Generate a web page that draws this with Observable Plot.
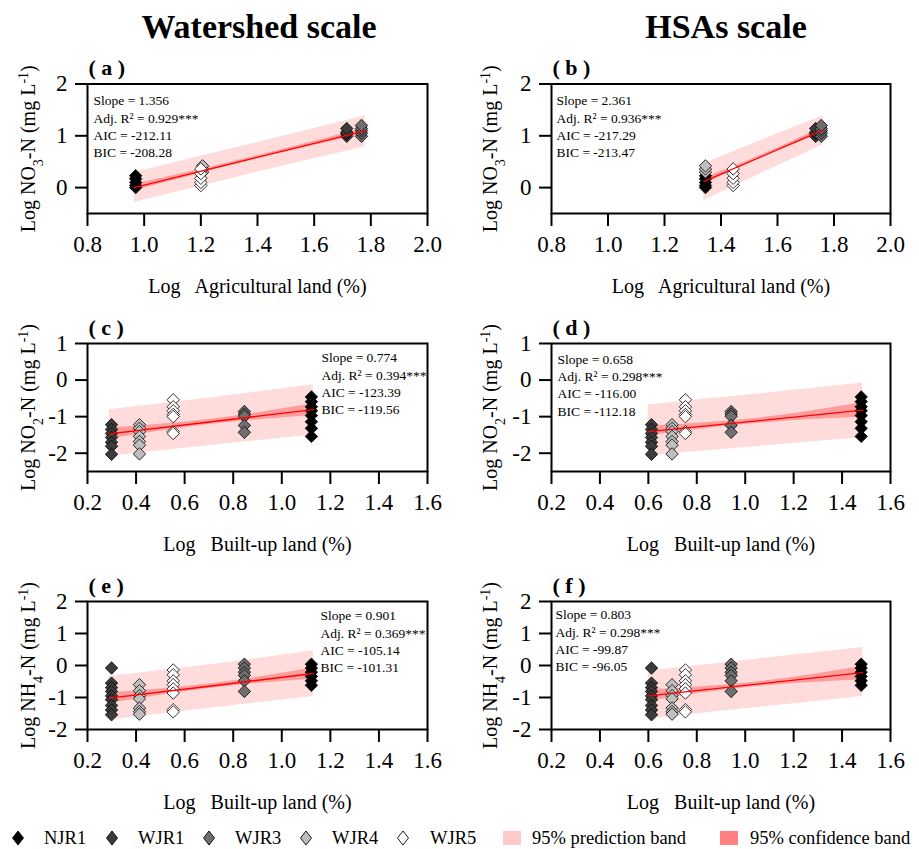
<!DOCTYPE html>
<html><head><meta charset="utf-8">
<script src="https://cdn.jsdelivr.net/npm/d3@7"></script>
<script src="https://cdn.jsdelivr.net/npm/@observablehq/plot@0.6"></script>
<style>
body{margin:0;background:#fff;}
#root{position:relative;width:919px;height:849px;background:#fff;font-family:"Liberation Serif","Times New Roman",serif;overflow:hidden;color:#000;}
.title{position:absolute;top:10px;font-weight:bold;font-size:34px;line-height:34px;white-space:nowrap;transform:translateX(-50%);}
.panel{position:absolute;}
.lg{position:absolute;top:828px;height:20px;line-height:20px;font-size:18.5px;white-space:nowrap;}
.lgs{position:absolute;}
</style></head><body><div id="root"></div><script>
// ---------- data ----------
const sites = ["NJR1", "WJR1", "WJR3", "WJR4", "WJR5"];
const siteFill = ["#000000", "#3c3c3c", "#6f6f6f", "#bebebe", "#ffffff"];

// x (log land-use %) per site
const agriWatershed = [0.970, 1.715, 1.767, 1.206, 1.200];
const agriHSA = [1.345, 1.735, 1.755, 1.345, 1.443];
const builtWatershed = [1.122, 0.299, 0.846, 0.414, 0.553];
const builtHSA = [1.479, 0.613, 0.942, 0.698, 0.753];

// y (log concentration) per site
const no3 = [
  [0.00, 0.04, 0.10, 0.17, 0.23],
  [0.99, 1.04, 1.07, 1.14],
  [0.99, 1.05, 1.10, 1.14, 1.20],
  [0.30, 0.36, 0.42],
  [0.04, 0.10, 0.18, 0.27, 0.36]
];
const no2 = [
  [-0.46, -0.59, -0.73, -0.84, -0.97, -1.14, -1.32, -1.54],
  [-1.22, -1.35, -1.46, -1.57, -1.70, -1.81, -2.03],
  [-0.86, -0.93, -0.99, -1.24, -1.43],
  [-1.22, -1.32, -1.41, -1.54, -1.68, -1.78, -2.02],
  [-0.54, -0.73, -0.84, -0.94, -1.00, -1.41, -1.46]
];
const nh4 = [
  [0.04, -0.08, -0.21, -0.34, -0.48, -0.62],
  [-0.08, -0.55, -0.69, -0.81, -0.95, -1.07, -1.25, -1.39, -1.54],
  [0.04, -0.08, -0.21, -0.31, -0.48, -0.81],
  [-0.60, -0.79, -0.94, -1.04, -1.33, -1.44, -1.52],
  [-0.14, -0.29, -0.48, -0.60, -0.73, -0.86, -1.38, -1.45]
];

// fitted line and bands, panels a..f
const bandX = [[0.965, 1.37, 1.78], [1.34, 1.55, 1.76], [0.29, 0.71, 1.13], [0.60, 1.04, 1.485], [0.29, 0.71, 1.13], [0.60, 1.04, 1.485]];
const fitY = [[0.00, 0.545, 1.095], [0.12, 0.615, 1.11], [-1.47, -1.14, -0.81], [-1.41, -1.12, -0.82], [-1.02, -0.64, -0.25], [-0.95, -0.59, -0.22]];
const predLo = [[-0.29, 0.26, 0.79], [-0.25, 0.29, 0.82], [-2.08, -1.79, -1.50], [-2.07, -1.82, -1.58], [-1.70, -1.33, -0.97], [-1.67, -1.32, -0.97]];
const predHi = [[0.29, 0.83, 1.38], [0.46, 0.93, 1.38], [-0.81, -0.48, -0.13], [-0.68, -0.39, -0.08], [-0.34, 0.03, 0.46], [-0.17, 0.19, 0.56]];
const confLo = [[-0.06, 0.515, 1.04], [0.06, 0.585, 1.05], [-1.61, -1.21, -0.97], [-1.52, -1.19, -1.02], [-1.18, -0.71, -0.42], [-1.12, -0.66, -0.45]];
const confHi = [[0.06, 0.575, 1.15], [0.18, 0.645, 1.17], [-1.31, -1.07, -0.65], [-1.26, -1.05, -0.62], [-0.86, -0.57, -0.08], [-0.76, -0.52, -0.03]];

// statistics
const panelLetters = ["a", "b", "c", "d", "e", "f"];
const slopes = [1.356, 2.361, 0.774, 0.658, 0.901, 0.803];
const adjR2 = [0.929, 0.936, 0.394, 0.298, 0.369, 0.298];
const aics = [-212.11, -217.29, -123.39, -116.00, -105.14, -99.87];
const bics = [-208.28, -213.47, -119.56, -112.18, -101.31, -96.05];

// axes
const xTicksAgri = [0.8, 1.0, 1.2, 1.4, 1.6, 1.8, 2.0];
const xTicksBuilt = [0.2, 0.4, 0.6, 0.8, 1.0, 1.2, 1.4, 1.6];
const yTicksNO3 = [0, 1, 2];
const yTicksNO2 = [-2, -1, 0, 1];
const yTicksNH4 = [-2, -1, 0, 1, 2];
const xLabels = ["Log\u00a0\u00a0 Agricultural land (%)", "Log\u00a0\u00a0 Built-up land (%)", "Log\u00a0\u00a0 Built-up land (%)"];
const yLabels = ["Log NO3-N (mg L-1)", "Log NO2-N (mg L-1)", "Log NH4-N (mg L-1)"];
const titles = ["Watershed scale", "HSAs scale"];
const legendLabels = ["NJR1", "WJR1", "WJR3", "WJR4", "WJR5", "95% prediction band", "95% confidence band"];

// ---------- layout ----------
const xByPanel = [agriWatershed, agriHSA, builtWatershed, builtHSA, builtWatershed, builtHSA];
const yByPanel = [no3, no3, no2, no2, nh4, nh4];
const xDomains = [[0.8, 2.0], [0.2, 1.6], [0.2, 1.6]];
const xTicksRow = [xTicksAgri, xTicksBuilt, xTicksBuilt];
const yDomains = [[-0.5, 2], [-2.5, 1], [-2, 2]];
const yTicksRow = [yTicksNO3, yTicksNO2, yTicksNH4];
const rowLayout = [{top: 55, h: 250, mt: 28.5, mb: 92}, {top: 315, h: 250, mt: 28, mb: 94}, {top: 573, h: 240, mt: 28, mb: 84}];
const colLayout = [{left: 0, w: 460, ml: 87, mr: 33, ydx: -53}, {left: 460, w: 459, ml: 91, mr: 29, ydx: -55}];
const statDx = [6, 5, 234, 6, 233, 4];
const statDy = [9, 9, 6.5, 8, 6.5, 5.5];

const PRED = "#ffdcdc", CONF = "#ff9090";
const root = document.getElementById("root");

function richLabel(svg) {
  d3.select(svg).selectAll("text").each(function() {
    const t = this.textContent;
    const m = /^Log (NO|NH)(\d)-N \(mg L-1\)$/.exec(t);
    if (!m) return;
    const s = d3.select(this);
    s.text(null);
    s.append("tspan").text("Log " + m[1]);
    s.append("tspan").attr("baseline-shift", "sub").attr("font-size", "70%").text(m[2]);
    s.append("tspan").text("-N (mg L");
    s.append("tspan").attr("baseline-shift", "super").attr("font-size", "70%").text("-1");
    s.append("tspan").text(")");
  });
}

for (let i = 0; i < 6; i++) {
  const row = Math.floor(i / 2), col = i % 2;
  const R = rowLayout[row], C = colLayout[col];
  const xs = xByPanel[i], ys = yByPanel[i];
  const pts = [];
  sites.forEach((s, k) => ys[k].forEach(v => pts.push({site: s, x: xs[k], y: v})));
  const band = bandX[i].map((x, j) => ({x, fit: fitY[i][j], pl: predLo[i][j], ph: predHi[i][j], cl: confLo[i][j], ch: confHi[i][j]}));
  const stat = `Slope = ${slopes[i].toFixed(3)}\nAdj. R\u00b2 = ${adjR2[i].toFixed(3)}***\nAIC = ${aics[i].toFixed(2)}\nBIC = ${bics[i].toFixed(2)}`;
  const plot = Plot.plot({
    width: C.w, height: R.h,
    marginLeft: C.ml, marginRight: C.mr, marginTop: R.mt, marginBottom: R.mb,
    style: {fontFamily: "Liberation Serif, Times New Roman, serif", fontSize: "23px", background: "transparent", color: "black", overflow: "visible"},
    x: {domain: xDomains[row]},
    y: {domain: yDomains[row]},
    color: {domain: sites, range: siteFill},
    marks: [
      Plot.areaY(band, {x: "x", y1: "pl", y2: "ph", fill: PRED, curve: "natural"}),
      Plot.areaY(band, {x: "x", y1: "cl", y2: "ch", fill: CONF, fillOpacity: 0.85, curve: "natural"}),
      Plot.dot(pts, {x: "x", y: "y", fill: "site", stroke: "black", strokeWidth: 0.8, symbol: "diamond2", r: 5.6}),
      Plot.line(band, {x: "x", y: "fit", stroke: "#ff0000", strokeWidth: 1.3}),
      Plot.frame({stroke: "black", strokeWidth: 2}),
      Plot.axisX(xTicksRow[row], {tickSize: 13, tickPadding: 9, strokeWidth: 2, label: null, tickFormat: d => d.toFixed(1)}),
      Plot.axisY(yTicksRow[row], {tickSize: 12, tickPadding: 8, strokeWidth: 2, label: null, tickFormat: d => String(d)}),
      Plot.text([xLabels[row]], {frameAnchor: "bottom", dy: 79, lineAnchor: "bottom", textAnchor: "middle", fontSize: 20}),
      Plot.text([yLabels[row]], {frameAnchor: "left", dx: C.ydx, rotate: -90, lineAnchor: "bottom", textAnchor: "middle", fontSize: 20}),
      Plot.text([`(\u00a0${panelLetters[i]}\u00a0)`], {frameAnchor: "top-left", dx: 1, dy: -9, lineAnchor: "bottom", textAnchor: "start", fontSize: 22, fontWeight: "bold"}),
      Plot.text([stat], {frameAnchor: "top-left", dx: statDx[i], dy: statDy[i], lineAnchor: "top", textAnchor: "start", fontSize: 13.5, lineHeight: 1.28})
    ]
  });
  richLabel(plot);
  plot.classList.add("panel");
  plot.style.left = C.left + "px";
  plot.style.top = R.top + "px";
  root.appendChild(plot);
}

// titles
[259, 726].forEach((cx, k) => {
  const d = document.createElement("div");
  d.className = "title";
  d.style.left = cx + "px";
  d.textContent = titles[k];
  root.appendChild(d);
});

// legend
const diamondX = [18, 112, 209, 306, 403];
const labelX = [44, 138, 235, 332, 430, 532, 750];
sites.forEach((s, k) => {
  const svg = d3.create("svg").attr("class", "lgs").attr("width", 14).attr("height", 18)
    .style("left", (diamondX[k] - 7) + "px").style("top", "829px");
  svg.append("path").attr("d", "M7,2 L12.5,9 L7,16 L1.5,9 Z").attr("fill", siteFill[k]).attr("stroke", "black").attr("stroke-width", 0.9);
  root.appendChild(svg.node());
});
[[503, "#ffcccc"], [720, "#ff8080"]].forEach(([x, c]) => {
  const svg = d3.create("svg").attr("class", "lgs").attr("width", 18).attr("height", 14)
    .style("left", x + "px").style("top", "831px");
  svg.append("rect").attr("width", 18).attr("height", 14).attr("fill", c);
  root.appendChild(svg.node());
});
legendLabels.forEach((t, k) => {
  const d = document.createElement("div");
  d.className = "lg";
  d.style.left = labelX[k] + "px";
  d.textContent = t;
  root.appendChild(d);
});
</script></body></html>
